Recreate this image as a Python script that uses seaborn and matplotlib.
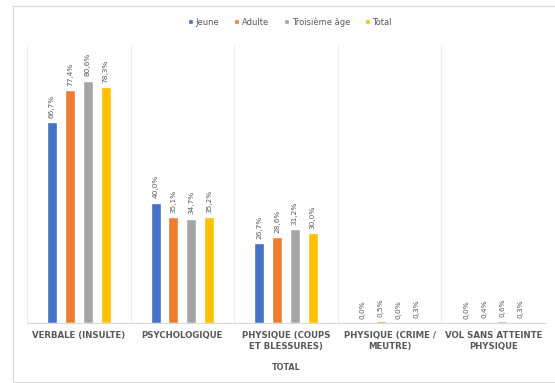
import matplotlib
matplotlib.use("Agg")
import matplotlib.pyplot as plt
from matplotlib.patches import Rectangle
import seaborn as sns
import pandas as pd

categories = [
    "VERBALE (INSULTE)",
    "PSYCHOLOGIQUE",
    "PHYSIQUE (COUPS\nET BLESSURES)",
    "PHYSIQUE (CRIME /\nMEUTRE)",
    "VOL SANS ATTEINTE\nPHYSIQUE",
]
series_names = ["Jeune", "Adulte", "Troisième âge", "Total"]
jeune = [66.7, 40.0, 26.7, 0.0, 0.0]
adulte = [77.4, 35.1, 28.6, 0.5, 0.4]
troisieme_age = [80.6, 34.7, 31.2, 0.0, 0.6]
total = [78.3, 35.2, 30.0, 0.3, 0.3]
colors = ["#4472C4", "#ED7D31", "#A5A5A5", "#FFC000"]
axis_title = "TOTAL"

rows = []
for name, vals in zip(series_names, [jeune, adulte, troisieme_age, total]):
    for cat, v in zip(categories, vals):
        rows.append({"cat": cat, "serie": name, "val": v})
df = pd.DataFrame(rows)

sns.set_style("white")
plt.rcParams["font.family"] = ["DejaVu Sans"]

fig = plt.figure(figsize=(5.55, 3.83), dpi=100)
# chart frame
fig.patches.append(Rectangle((13 / 555, 0.002), 1.0, (383 - 6) / 383 - 0.002,
                             transform=fig.transFigure, fill=False,
                             edgecolor="#d9d9d9", linewidth=0.8))
ax = fig.add_axes([27 / 555, 60 / 383, (545 - 27) / 555, (323 - 45) / 383])

sns.barplot(data=df, x="cat", y="val", hue="serie", order=categories,
            hue_order=series_names, palette=colors, width=0.69, gap=0.44,
            saturation=1, ax=ax, legend=True)

ax.set_ylim(0, 92.4)
ax.set_xlim(-0.5, 4.5)
ax.set_yticks([])
ax.set_xlabel(axis_title, fontsize=5.8, color="#595959", fontweight="bold", labelpad=9)
ax.set_ylabel("")
for s in ["top", "right", "left"]:
    ax.spines[s].set_visible(False)
ax.spines["bottom"].set_color("#d9d9d9")
ax.spines["bottom"].set_linewidth(0.8)

# vertical separators between categories
for b in [-0.5, 0.5, 1.5, 2.5, 3.5, 4.5]:
    ax.axvline(b, color="#ececec", linewidth=0.8, zorder=0)

ax.tick_params(axis="x", length=0, pad=6)
ax.set_xticks(range(len(categories)))
ax.set_xticklabels(categories, fontsize=6.2, color="#595959", fontweight="bold")

for cont in ax.containers:
    for bar in cont:
        h = bar.get_height()
        ax.annotate(f"{h:.1f}%".replace(".", ","),
                    (bar.get_x() + bar.get_width() / 2, h),
                    xytext=(0, 3), textcoords="offset points",
                    rotation=90, ha="center", va="bottom",
                    fontsize=5.3, color="#595959")

leg = ax.legend(loc="center", bbox_to_anchor=(290 / 555, 1 - 22 / 383),
                bbox_transform=fig.transFigure, ncol=4, frameon=False,
                fontsize=6, handlelength=0.6, handleheight=0.6,
                handletextpad=0.3, columnspacing=1.8, borderaxespad=0)
for t in leg.get_texts():
    t.set_color("#595959")

fig.savefig("out.png", dpi=100)
